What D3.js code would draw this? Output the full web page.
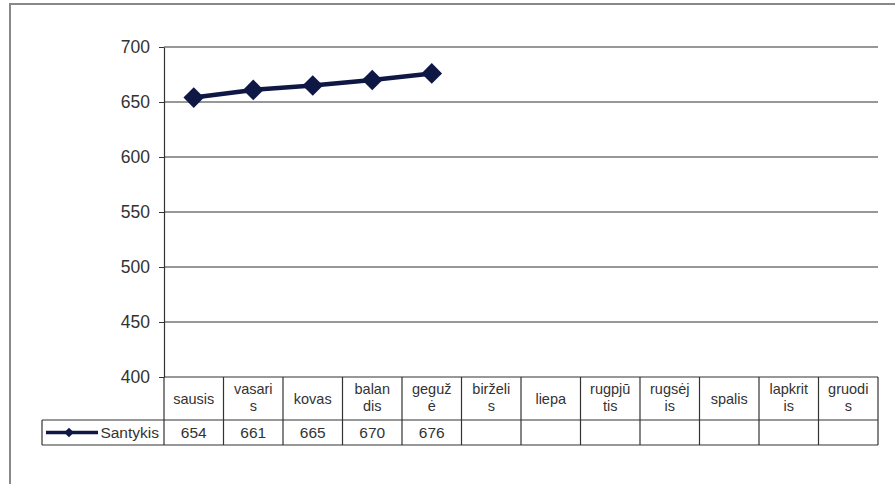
<!DOCTYPE html>
<html>
<head>
<meta charset="utf-8">
<script src="https://cdn.jsdelivr.net/npm/d3@7"></script>
<style>
  body { margin: 0; background: #fff; }
  text { font-family: "Liberation Sans", Arial, sans-serif; fill: #333; }
</style>
</head>
<body>
<div id="chart"></div>
<script>
// data
const months = ["sausis", "vasaris", "kovas", "balandis", "gegužė", "birželis",
  "liepa", "rugpjūtis", "rugsėjis", "spalis", "lapkritis", "gruodis"];
// as wrapped in the table header
const monthLines = [["sausis"], ["vasari", "s"], ["kovas"], ["balan", "dis"], ["geguž", "ė"],
  ["birželi", "s"], ["liepa"], ["rugpjū", "tis"], ["rugsėj", "is"], ["spalis"], ["lapkrit", "is"], ["gruodi", "s"]];
const values = [654, 661, 665, 670, 676];
const seriesName = "Santykis";
const yTicks = [400, 450, 500, 550, 600, 650, 700];

const W = 895, H = 484;
const plot = { left: 164, right: 878, top: 47, bottom: 377 };
const headerH = 43, rowH = 25, legendLeft = 42;
const lineColor = "#0f1744";

const svg = d3.select("#chart").append("svg")
    .attr("width", W).attr("height", H);

// outer frame
svg.append("path")
    .attr("d", `M10,${H} L10,4 L${W},4`)
    .attr("fill", "none").attr("stroke", "#888").attr("stroke-width", 2);

// scales
const x = d3.scaleBand().domain(months).range([plot.left, plot.right]);
const y = d3.scaleLinear().domain([400, 700]).range([plot.bottom, plot.top]);

// gridlines
svg.append("g").selectAll("line")
    .data(yTicks.filter(d => d > 400))
    .join("line")
    .attr("x1", plot.left).attr("x2", plot.right)
    .attr("y1", d => y(d)).attr("y2", d => y(d))
    .attr("stroke", "#333").attr("stroke-width", 1.2);

// y axis
const yAxis = svg.append("g")
    .attr("transform", `translate(${plot.left},0)`)
    .call(d3.axisLeft(y).tickValues(yTicks).tickSize(5).tickPadding(9).tickSizeOuter(0));
yAxis.select(".domain").attr("stroke", "#333").attr("stroke-width", 1.2);
yAxis.selectAll(".tick line").attr("stroke", "#333");
yAxis.selectAll(".tick text")
    .attr("font-size", 17.5).attr("fill", "#333")
    .style("font-family", "'Liberation Sans', Arial, sans-serif");

// table
const table = svg.append("g").attr("stroke", "#333").attr("stroke-width", 1.2).attr("fill", "none");
const headY = plot.bottom, rowY = plot.bottom + headerH, rowB = rowY + rowH;
// horizontal lines
table.append("line").attr("x1", plot.left).attr("x2", plot.right).attr("y1", headY).attr("y2", headY);
table.append("line").attr("x1", legendLeft).attr("x2", plot.right).attr("y1", rowY).attr("y2", rowY);
table.append("line").attr("x1", legendLeft).attr("x2", plot.right).attr("y1", rowB).attr("y2", rowB);
table.append("line").attr("x1", legendLeft).attr("x2", legendLeft).attr("y1", rowY).attr("y2", rowB);
// vertical lines
table.selectAll(".v")
    .data(months.map(m => x(m)).concat([plot.right]))
    .join("line")
    .attr("x1", d => d).attr("x2", d => d)
    .attr("y1", headY).attr("y2", rowB);

// header text: one text per line so lines never overlap
const headLines = [];
monthLines.forEach((lines, i) => {
  lines.forEach((t, j) => headLines.push({ month: months[i], text: t, j: j, n: lines.length }));
});
svg.append("g").selectAll("text")
    .data(headLines)
    .join("text")
    .attr("text-anchor", "middle")
    .attr("font-size", 14.5)
    .attr("x", d => x(d.month) + x.bandwidth() / 2)
    .attr("y", d => d.n === 1 ? headY + 27 : headY + 17 + d.j * 17)
    .text(d => d.text);

// value row
svg.append("g").selectAll("text")
    .data(values)
    .join("text")
    .attr("text-anchor", "middle")
    .attr("font-size", 15.5)
    .attr("x", (d, i) => x(months[i]) + x.bandwidth() / 2)
    .attr("y", rowY + 18)
    .text(d => d);

// legend key
const diamond = d3.symbol().type(d3.symbolDiamond2);
svg.append("line")
    .attr("x1", legendLeft + 4).attr("x2", legendLeft + 56)
    .attr("y1", rowY + rowH / 2).attr("y2", rowY + rowH / 2)
    .attr("stroke", lineColor).attr("stroke-width", 3.5);
svg.append("path")
    .attr("d", diamond.size(60)())
    .attr("transform", `translate(${legendLeft + 27},${rowY + rowH / 2})`)
    .attr("fill", lineColor);
svg.append("text")
    .attr("x", plot.left - 5).attr("y", rowY + 18)
    .attr("text-anchor", "end").attr("font-size", 15.5)
    .text(seriesName);

// series line
const cx = (d, i) => x(months[i]) + x.bandwidth() / 2;
svg.append("path")
    .datum(values)
    .attr("fill", "none")
    .attr("stroke", lineColor)
    .attr("stroke-width", 4.5)
    .attr("d", d3.line().x(cx).y(d => y(d)));

svg.append("g").selectAll("path")
    .data(values)
    .join("path")
    .attr("d", diamond.size(270)())
    .attr("transform", (d, i) => `translate(${cx(d, i)},${y(d)})`)
    .attr("fill", lineColor);
</script>
</body>
</html>
